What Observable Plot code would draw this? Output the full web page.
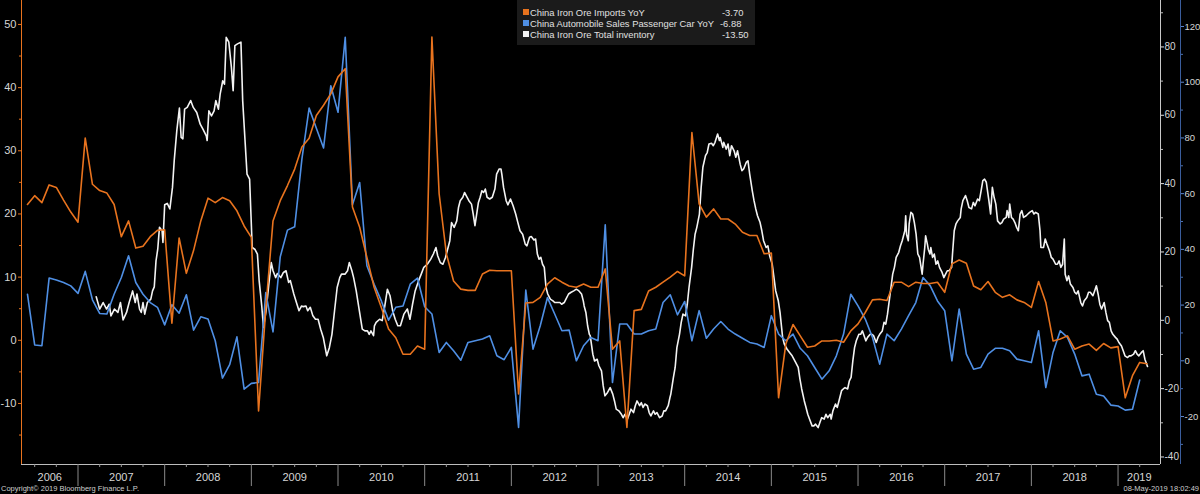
<!DOCTYPE html>
<html>
<head>
<meta charset="utf-8">
<script src="https://cdn.jsdelivr.net/npm/d3@7"></script>
<script src="https://cdn.jsdelivr.net/npm/@observablehq/plot@0.6"></script>
<style>
  html, body { margin: 0; padding: 0; background: #000; }
  #wrap { position: relative; width: 1200px; height: 494px; overflow: hidden; background: #000;
          font-family: "Liberation Sans", Arial, sans-serif; }
  #chart svg { display: block; }
  #legend { position: absolute; left: 517px; top: 0; width: 238px; height: 45px; background: #1b1b1b; }
  .lrow { position: absolute; left: 0; height: 11px; font-size: 9.4px; line-height: 11px; color: #e0e0e0; white-space: nowrap; }
  .sw { position: absolute; left: 6px; top: 2px; width: 6px; height: 6px; }
  .nm { position: absolute; left: 13px; top: 0; }
  .vl { position: absolute; top: 0; }
  #copy { position: absolute; left: 1px; top: 484px; font-size: 7.5px; color: #cfcfcf; white-space: nowrap; }
  #stamp { position: absolute; right: 1px; top: 484px; font-size: 7.5px; color: #cfcfcf; white-space: nowrap; }
</style>
</head>
<body>
<div id="wrap">
  <div id="chart"></div>
  <div id="legend"></div>
  <div id="copy"></div>
  <div id="stamp"></div>
</div>
<script>
// ---------------- DATA ----------------
const seriesNames = ["China Iron Ore Imports YoY", "China Automobile Sales Passenger Car YoY", "China Iron Ore Total inventory"];
const lastValues = ["-3.70", "-6.88", "-13.50"];

// monthly series, first observation month
const firstMonth = "2006-06";

// China Iron Ore Imports YoY (left axis)
const ironOreImportsYoY = [
  21.5,22.9,21.8,24.6,24.2,22.2,20.3,18.7,
  32.0,24.7,23.7,23.3,21.5,16.4,18.9,14.6,14.9,16.4,17.4,17.5,
  2.7,16.2,10.6,14.2,18.9,22.5,21.8,22.6,22.1,20.5,18.1,16.3,
  -11.2,5.0,18.9,22.1,24.5,27.1,30.6,32.0,35.6,37.2,39.0,41.7,
  43.0,21.1,17.9,13.1,8.4,5.2,1.8,0.4,-2.2,-2.2,-0.9,-1.4,
  48.0,23.2,13.7,9.4,8.1,7.9,7.9,10.5,11.1,11.0,11.0,11.0,
  -8.5,5.9,6.0,6.8,8.9,9.9,9.2,8.6,8.4,8.9,8.4,8.4,
  11.3,-1.4,-0.1,-13.8,4.7,4.9,7.8,8.4,9.2,10.0,10.9,10.2,
  32.9,21.6,19.5,20.8,19.2,19.2,18.4,17.1,16.6,16.6,13.7,13.8,
  -9.1,-0.6,2.5,0.7,-1.1,-0.9,-0.1,-0.1,0.0,-0.3,1.5,2.6,
  4.4,6.4,6.5,6.3,9.2,9.2,8.5,9.2,9.0,9.0,9.2,7.6,
  12.1,12.7,12.2,8.6,8.0,9.3,7.6,6.8,7.2,6.4,6.0,5.2,
  9.3,6.0,-0.1,0.2,0.7,-1.4,-0.9,-0.6,-1.6,-0.5,-1.2,-1.0,
  -9.1,-5.6,-3.5,-3.70
];

// China Automobile Sales Passenger Car YoY (outer right axis)
const autoSalesYoY = [
  23.9,5.7,5.4,29.7,29.0,28.1,26.9,24.2,
  32.1,21.9,17.0,16.8,23.9,29.9,37.7,28.1,23.9,20.9,19.2,12.9,
  20.1,17.1,23.7,11.0,15.8,15.0,7.2,-6.2,-1.4,8.6,-10.2,-8.1,
  -7.8,24.5,10.4,37.3,46.9,48.1,72.4,90.7,83.5,76.4,98.7,89.2,
  116.1,56.0,64.0,34.1,27.5,21.5,14.6,19.2,19.7,27.5,29.7,19.4,
  16.8,3.0,6.6,3.6,0.2,6.6,7.2,7.8,9.0,1.8,0.4,4.8,
  -23.9,25.4,4.2,12.6,22.7,16.8,10.8,11.0,0.0,5.4,8.4,7.2,
  48.8,-7.8,13.2,13.2,9.6,9.6,10.8,11.4,20.9,23.7,16.5,21.3,
  7.2,18.0,8.1,11.4,14.1,11.4,9.6,8.1,6.6,6.0,4.8,16.2,
  9.6,7.2,9.6,4.5,1.8,-2.4,-6.6,-3.6,1.8,9.6,23.9,19.7,
  15.0,8.4,-1.2,9.6,7.2,11.4,16.2,20.9,29.9,26.9,21.5,18.0,
  0.0,18.6,2.4,-3.0,-2.4,2.4,4.5,4.5,3.6,0.6,0.0,-0.6,
  10.8,-9.6,3.0,10.8,8.4,2.4,-5.4,-4.8,-12.0,-12.6,-15.9,-16.2,
  -17.7,-17.4,-6.88
];

// China Iron Ore Total inventory, weekly (inner right axis): [decimal year, value]
const ironOreInventory = [
  [2007.21,6.9],[2007.25,3.3],[2007.29,5.2],[2007.33,3.3],[2007.36,4.7],[2007.38,1.3],[2007.42,3.3],[2007.46,2.3],[2007.49,5.2],[2007.52,0.1],
  [2007.56,2.3],[2007.59,5.2],[2007.63,8.6],[2007.66,5.2],[2007.68,7.7],[2007.71,3.3],[2007.73,2.3],[2007.75,5.2],[2007.77,1.8],[2007.80,5.2],
  [2007.84,6.2],[2007.86,8.6],[2007.88,9.8],[2007.90,17.4],[2007.92,20.8],[2007.94,27.2],[2007.97,26.2],[2007.98,22.8],[2008.00,33.8],[2008.03,34.2],
  [2008.06,32.6],[2008.09,38.9],[2008.11,46.7],[2008.14,55.5],[2008.17,62.1],[2008.19,53.5],[2008.21,53.1],[2008.23,61.8],[2008.26,62.3],[2008.30,64.3],
  [2008.33,62.3],[2008.37,60.8],[2008.41,57.4],[2008.44,56.0],[2008.48,54.0],[2008.49,52.6],[2008.51,61.3],[2008.54,59.8],[2008.57,61.3],[2008.59,64.3],
  [2008.62,61.8],[2008.64,66.2],[2008.67,70.1],[2008.69,69.1],[2008.71,82.8],[2008.74,81.4],[2008.77,74.0],[2008.79,67.2],[2008.81,80.4],[2008.84,80.9],
  [2008.88,81.4],[2008.90,64.3],[2008.95,42.8],[2008.98,41.3],[2009.01,21.3],[2009.04,20.8],[2009.07,19.4],[2009.09,11.6],[2009.12,4.2],[2009.14,-2.1],
  [2009.17,2.8],[2009.20,10.1],[2009.23,16.9],[2009.25,14.5],[2009.28,12.5],[2009.30,13.7],[2009.34,12.5],[2009.37,14.0],[2009.40,14.5],[2009.43,11.1],
  [2009.45,11.6],[2009.49,7.7],[2009.52,5.2],[2009.55,2.8],[2009.58,4.2],[2009.60,4.0],[2009.63,4.2],[2009.65,2.8],[2009.68,3.8],[2009.71,1.3],
  [2009.74,0.3],[2009.77,0.3],[2009.80,-2.6],[2009.83,-5.0],[2009.87,-10.4],[2009.90,-8.0],[2009.93,-4.1],[2009.96,2.8],[2009.99,9.6],[2010.02,12.5],
  [2010.04,13.5],[2010.08,13.5],[2010.11,14.5],[2010.13,16.9],[2010.16,14.5],[2010.18,12.5],[2010.21,8.6],[2010.24,3.8],[2010.28,-2.6],[2010.31,-3.1],
  [2010.34,-3.1],[2010.36,-4.1],[2010.38,-3.1],[2010.41,-4.5],[2010.42,-1.6],[2010.44,-0.6],[2010.48,0.3],[2010.51,-0.1],[2010.54,4.2],[2010.57,9.1],
  [2010.60,7.2],[2010.63,2.8],[2010.66,0.3],[2010.69,-1.6],
  [2010.72,-1.6],[2010.76,1.8],[2010.80,3.3],[2010.83,0.3],[2010.86,4.7],[2010.89,8.6],[2010.93,11.6],[2010.96,13.5],[2010.99,15.5],[2011.03,16.4],
  [2011.07,17.9],[2011.10,19.4],[2011.13,21.3],[2011.15,18.9],[2011.18,16.9],[2011.21,16.4],[2011.24,18.4],[2011.27,21.3],[2011.29,23.3],[2011.31,28.6],
  [2011.34,27.2],[2011.37,29.1],[2011.39,33.0],[2011.41,35.0],[2011.44,36.0],[2011.46,37.4],[2011.49,36.0],[2011.51,35.0],[2011.54,34.0],[2011.56,31.1],
  [2011.58,27.7],[2011.60,31.1],[2011.62,34.5],[2011.64,36.0],[2011.66,37.9],[2011.68,37.4],[2011.70,38.4],[2011.72,36.0],[2011.75,35.5],[2011.78,36.0],
  [2011.81,38.4],[2011.83,42.8],[2011.86,44.3],[2011.88,44.3],[2011.89,42.8],[2011.91,38.9],[2011.94,35.0],[2011.96,33.8],[2011.99,35.5],[2012.02,33.5],
  [2012.05,31.1],[2012.07,29.1],[2012.10,26.2],[2012.13,25.2],[2012.16,22.3],[2012.18,21.8],[2012.21,24.3],[2012.23,24.5],[2012.26,23.5],[2012.28,23.8],
  [2012.30,19.4],[2012.32,17.9],[2012.34,18.4],[2012.36,16.4],[2012.38,15.5],[2012.40,9.6],[2012.42,7.7],[2012.45,6.2],[2012.48,5.7],[2012.50,5.2],
  [2012.53,5.2],[2012.56,5.2],[2012.58,4.7],[2012.61,5.2],[2012.63,6.2],[2012.66,7.7],[2012.69,8.2],[2012.72,8.6],[2012.75,9.1],[2012.78,8.6],
  [2012.81,7.7],[2012.83,5.7],[2012.84,4.2],[2012.86,2.3],[2012.88,-1.6],[2012.90,-4.1],[2012.91,-4.5],[2012.94,-9.9],[2012.96,-11.9],[2012.99,-11.4],
  [2013.01,-13.3],[2013.04,-14.8],[2013.06,-19.2],[2013.08,-22.1],[2013.11,-21.1],[2013.14,-19.7],[2013.17,-21.6],[2013.19,-23.6],[2013.21,-26.0],[2013.24,-26.5],
  [2013.27,-27.5],[2013.29,-28.5],[2013.31,-27.5],[2013.34,-28.9],[2013.36,-27.5],[2013.38,-26.0],[2013.41,-27.0],[2013.43,-25.0],[2013.45,-23.6],[2013.48,-25.0],
  [2013.50,-24.1],[2013.52,-25.5],[2013.54,-24.5],[2013.57,-25.0],[2013.59,-27.0],[2013.61,-28.0],[2013.64,-26.5],[2013.66,-27.5],[2013.68,-27.0],[2013.71,-28.5],
  [2013.74,-28.0],[2013.76,-26.5],[2013.78,-26.5],[2013.81,-25.0],[2013.83,-22.6],[2013.84,-21.6],[2013.87,-16.7],[2013.89,-13.8],[2013.91,-8.0],[2013.94,-4.1],
  [2013.96,-0.6],[2013.98,1.8],[2014.01,1.3],[2014.03,4.7],[2014.05,9.6],[2014.08,15.5],[2014.10,20.8],[2014.12,25.2],[2014.14,27.2],[2014.17,31.1],
  [2014.19,38.9],[2014.21,44.8],[2014.24,48.2],[2014.26,49.1],[2014.28,51.6],[2014.31,51.8],[2014.33,51.1],[2014.35,52.1],[2014.38,54.5],[2014.40,52.6],
  [2014.41,53.5],[2014.44,50.6],[2014.45,52.1],[2014.48,50.1],[2014.50,51.6],[2014.52,48.2],[2014.54,51.1],[2014.57,49.6],[2014.59,47.7],[2014.61,49.6],
  [2014.64,45.7],[2014.66,43.8],[2014.68,44.3],[2014.71,46.2],[2014.73,46.7],[2014.75,42.8],[2014.78,37.9],[2014.80,35.0],[2014.82,32.6],[2014.84,30.6],
  [2014.87,28.6],[2014.89,26.2],[2014.91,23.3],[2014.94,21.3],[2014.96,21.8],[2014.98,18.9],[2015.01,16.4],[2015.03,12.5],[2015.05,8.6],[2015.08,5.7],
  [2015.10,2.3],
  [2015.13,-5.0],[2015.15,-7.0],[2015.18,-8.4],[2015.21,-9.4],[2015.24,-10.4],[2015.28,-12.3],[2015.31,-13.8],[2015.33,-17.2],[2015.35,-20.1],[2015.38,-23.6],
  [2015.40,-25.5],[2015.42,-27.5],[2015.44,-28.9],[2015.47,-30.9],[2015.49,-30.9],[2015.51,-30.4],[2015.54,-31.4],[2015.56,-29.9],[2015.58,-28.5],[2015.61,-28.9],
  [2015.63,-27.5],[2015.65,-28.5],[2015.68,-27.5],[2015.69,-28.9],[2015.71,-26.5],[2015.74,-24.5],[2015.76,-25.5],[2015.78,-23.6],[2015.81,-20.6],[2015.83,-20.1],
  [2015.85,-19.7],[2015.88,-20.1],[2015.90,-17.7],[2015.92,-16.7],[2015.94,-11.9],[2015.96,-8.0],[2015.98,-6.0],[2016.01,-4.1],[2016.03,-4.1],[2016.05,-3.1],
  [2016.07,-4.5],[2016.09,-6.0],[2016.11,-5.0],[2016.14,-4.1],[2016.16,-4.1],[2016.18,-4.5],[2016.21,-6.5],[2016.23,-5.0],[2016.25,-4.1],[2016.28,-3.1],
  [2016.30,-0.6],[2016.32,-1.1],[2016.34,1.8],[2016.36,5.7],[2016.38,9.6],[2016.40,13.5],[2016.42,15.5],[2016.44,18.4],[2016.47,19.9],[2016.49,21.8],
  [2016.51,23.3],[2016.54,26.2],[2016.55,30.6],[2016.56,25.2],[2016.58,23.3],[2016.59,28.2],[2016.61,31.6],[2016.63,31.1],[2016.65,28.6],[2016.67,25.2],
  [2016.69,19.4],[2016.71,18.4],[2016.74,13.5],[2016.75,16.4],[2016.77,21.3],[2016.78,24.7],[2016.80,22.3],[2016.81,20.8],[2016.83,19.4],[2016.84,21.3],
  [2016.86,18.4],[2016.88,19.4],[2016.90,16.4],[2016.92,17.4],[2016.94,15.5],[2016.97,14.0],[2016.99,12.5],[2017.01,13.5],[2017.03,14.5],[2017.05,14.5],
  [2017.08,15.5],[2017.09,19.4],[2017.11,26.2],[2017.13,28.2],[2017.15,29.1],[2017.18,30.1],[2017.19,32.6],[2017.21,35.0],[2017.24,36.5],[2017.26,35.0],
  [2017.28,33.0],[2017.31,32.6],[2017.33,34.5],[2017.35,33.5],[2017.38,35.5],[2017.40,35.0],[2017.42,37.9],[2017.44,40.9],[2017.46,41.3],[2017.48,40.4],
  [2017.51,35.0],[2017.53,31.1],[2017.55,38.9],[2017.57,36.0],[2017.59,34.0],[2017.61,29.1],[2017.64,28.2],[2017.66,28.6],[2017.68,29.6],[2017.71,30.1],
  [2017.72,32.1],[2017.74,30.1],[2017.75,34.0],[2017.77,30.1],[2017.79,29.6],[2017.81,28.6],[2017.83,27.2],[2017.85,26.2],[2017.87,31.1],[2017.89,32.1],
  [2017.91,30.1],[2017.94,30.6],[2017.96,31.1],[2017.98,31.6],[2018.01,32.1],[2018.03,31.1],[2018.05,31.6],[2018.08,31.1],[2018.10,26.2],[2018.11,21.3],
  [2018.14,21.3],[2018.16,23.8],[2018.18,22.3],[2018.21,20.3],[2018.23,18.4],[2018.25,17.9],[2018.28,16.4],[2018.30,16.4],[2018.32,17.4],[2018.34,15.5],
  [2018.36,16.4],[2018.38,23.8],[2018.39,13.5],[2018.41,11.6],[2018.43,13.0],[2018.45,10.6],[2018.48,9.6],[2018.50,8.2],[2018.52,7.7],[2018.54,8.6],
  [2018.57,5.2],[2018.59,4.2],[2018.61,5.7],[2018.64,6.7],[2018.66,8.2],[2018.68,8.2],[2018.71,7.2],[2018.73,8.6],[2018.75,10.1],[2018.77,7.7],
  [2018.79,4.7],[2018.81,3.3],[2018.84,5.2],[2018.86,2.3],[2018.88,-0.1],[2018.90,-0.6],[2018.92,-3.1],[2018.94,-4.1],[2018.97,-5.0],[2018.99,-5.5],
  [2019.01,-6.5],[2019.04,-7.5],[2019.06,-8.9],[2019.08,-10.4],[2019.11,-10.9],[2019.13,-10.4],[2019.15,-10.4],[2019.18,-9.9],[2019.20,-8.9],[2019.22,-9.9],
  [2019.24,-10.4],[2019.27,-9.4],[2019.29,-8.9],[2019.31,-11.4],[2019.34,-13.50]
];

// axis tick labels
const leftTicks = [-10, 0, 10, 20, 30, 40, 50];
const leftMinorTicks = [-15, -5, 5, 15, 25, 35, 45];
const inventoryTicks = [-40, -20, 0, 20, 40, 60, 80];
const inventoryMinorTicks = [-30, -10, 10, 30, 50, 70, 90];
const autoTicks = [-20, 0, 20, 40, 60, 80, 100, 120];
const autoMinorTicks = [-30, -10, 10, 30, 50, 70, 90, 110];
const yearLabels = [2006, 2007, 2008, 2009, 2010, 2011, 2012, 2013, 2014, 2015, 2016, 2017, 2018, 2019];

const copyrightText = "Copyright\u00A9 2019 Bloomberg Finance L.P.";
const stampText = "08-May-2019 18:02:49";

// ---------------- SCALES / STYLE ----------------
const cOrange = "#e8731e", cBlue = "#4f8fe4", cWhite = "#f3f3f3";
const cAxisText = "#d6d6d6";
const xDomain = [2006.348, 2019.49];
const leftDomain = [-19.66, 53.79];
const inventoryDomain = [-42.2, 93.59];
const autoDomain = [-37.22, 129.33];
const invToLeft = d3.scaleLinear(inventoryDomain, leftDomain);
const autoToLeft = d3.scaleLinear(autoDomain, leftDomain);
const fmt = v => String(Math.round(v));

const [fy, fm] = firstMonth.split("-").map(Number);
const t0 = fy + (fm - 1) / 12;
const orangeData = ironOreImportsYoY.map((v, i) => ({t: t0 + i / 12, v}));
const blueData = autoSalesYoY.map((v, i) => ({t: t0 + i / 12, v}));
const whiteData = ironOreInventory.map(([t, v]) => ({t, v}));

const quarterTicks = yearLabels.flatMap(y => [y + 0.25, y + 0.5, y + 0.75]).filter(t => t > xDomain[0] && t < xDomain[1]);
const yearBounds = yearLabels.filter(y => y > xDomain[0] && y < xDomain[1]);

const chart = Plot.plot({
  width: 1200,
  height: 494,
  marginLeft: 21,
  marginRight: 40,
  marginTop: 0,
  marginBottom: 30,
  style: {background: "#000", color: cAxisText, fontFamily: "'Liberation Sans', Arial, sans-serif", fontSize: "11px"},
  x: {type: "linear", domain: xDomain, axis: null},
  y: {domain: leftDomain, axis: null},
  marks: [
    // left axis (imports)
    Plot.ruleX([xDomain[0]], {stroke: cOrange, strokeWidth: 1}),
    Plot.axisY(leftTicks, {anchor: "left", tickSize: 3, tickPadding: 2, tickFormat: fmt, stroke: cOrange, fill: cAxisText, fontSize: 11, label: null}),
    Plot.axisY(leftMinorTicks, {anchor: "left", tickSize: 2, fill: "none", stroke: cOrange, label: null}),
    // inner right axis (inventory)
    Plot.ruleX([xDomain[1]], {stroke: "#c8c8c8", strokeWidth: 1}),
    Plot.axisY(inventoryTicks.map(invToLeft), {anchor: "right", tickSize: 3, tickPadding: 1, tickFormat: d => fmt(invToLeft.invert(d)), stroke: "#e0e0e0", fill: cAxisText, fontSize: 10, label: null}),
    Plot.axisY(inventoryMinorTicks.map(invToLeft), {anchor: "right", tickSize: 2, fill: "none", stroke: "#bbb", label: null}),
    // outer right axis (auto sales)
    Plot.ruleX([xDomain[1]], {stroke: "#3a5d9c", strokeWidth: 1, dx: 20}),
    Plot.axisY(autoTicks.map(autoToLeft), {anchor: "right", dx: 20, tickSize: 3, tickPadding: 1, tickFormat: d => fmt(autoToLeft.invert(d)), stroke: "#5b86d0", fill: cAxisText, fontSize: 9.5, label: null}),
    Plot.axisY(autoMinorTicks.map(autoToLeft), {anchor: "right", dx: 20, tickSize: 2, fill: "none", stroke: "#4a6fae", label: null}),
    // x axis
    Plot.ruleY([leftDomain[0]], {stroke: "#bdbdbd", strokeWidth: 1}),
    Plot.axisX(quarterTicks, {anchor: "bottom", tickSize: 3, fill: "none", stroke: "#999", label: null}),
    Plot.axisX(yearBounds, {anchor: "bottom", tickSize: 22, fill: "none", stroke: "#8a8a8a", label: null}),
    Plot.text(yearLabels, {
      x: y => (Math.max(y, xDomain[0]) + Math.min(y + 1, xDomain[1])) / 2,
      frameAnchor: "bottom", dy: 16, text: d => String(d), fill: cAxisText, fontSize: 11
    }),
    // series
    Plot.line(whiteData, {x: "t", y: d => invToLeft(d.v), stroke: cWhite, strokeWidth: 1.6}),
    Plot.line(blueData, {x: "t", y: d => autoToLeft(d.v), stroke: cBlue, strokeWidth: 1.6}),
    Plot.line(orangeData, {x: "t", y: "v", stroke: cOrange, strokeWidth: 1.6})
  ]
});
document.getElementById("chart").appendChild(chart);

// legend
const legendColors = [cOrange, cBlue, "#f3f3f3"];
const valueLeft = [205, 203, 205];
const legend = document.getElementById("legend");
seriesNames.forEach((name, i) => {
  const row = document.createElement("div");
  row.className = "lrow";
  row.style.top = (7 + i * 11) + "px";
  row.innerHTML = `<span class="sw" style="background:${legendColors[i]}"></span><span class="nm">${name}</span><span class="vl" style="left:${valueLeft[i]}px">${lastValues[i]}</span>`;
  legend.appendChild(row);
});
document.getElementById("copy").textContent = copyrightText;
document.getElementById("stamp").textContent = stampText;
</script>
</body>
</html>
